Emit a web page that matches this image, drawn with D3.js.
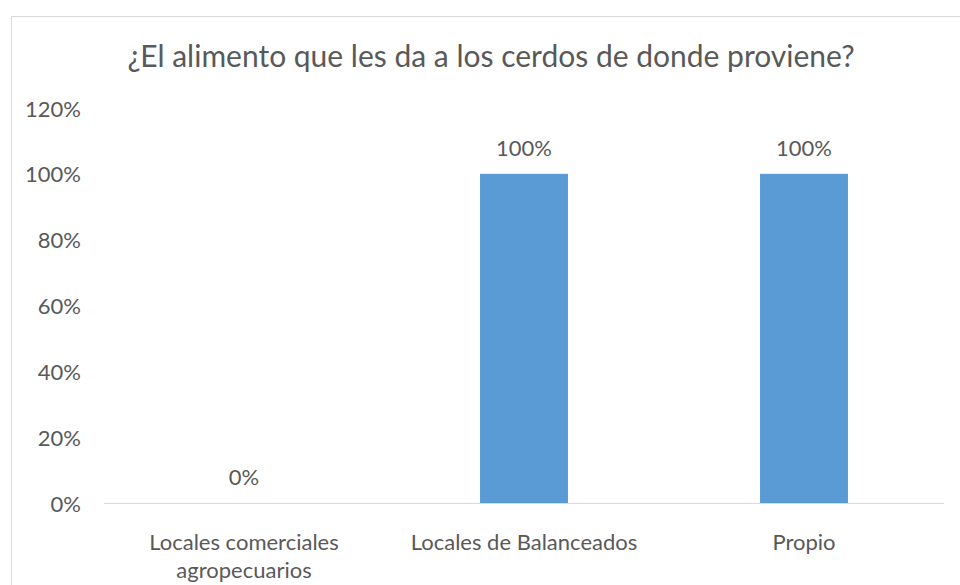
<!DOCTYPE html>
<html><head><meta charset="utf-8">
<script src="https://cdn.jsdelivr.net/npm/d3@7"></script>
<style>body{margin:0;background:#fff;} text{font-family:Lato,sans-serif;fill:#595959;}</style>
</head><body>
<svg id="c" width="960" height="585"></svg>
<script>
const title = "¿El alimento que les da a los cerdos de donde proviene?";
const categories = ["Locales comerciales agropecuarios", "Locales de Balanceados", "Propio"];
const categoryLines = [["Locales comerciales", "agropecuarios"], ["Locales de Balanceados"], ["Propio"]];
const values = [0, 1, 1];
const tickValues = [0, 0.2, 0.4, 0.6, 0.8, 1.0, 1.2];

const svg = d3.select("#c");
svg.append("rect").attr("x", 11.5).attr("y", 16.5).attr("width", 1000).attr("height", 1000)
  .attr("fill", "#fff").attr("stroke", "#d9d9d9").attr("stroke-width", 1);

const mLeft = 104, mRight = 944, mTop = 108, mBottom = 503;
const x = d3.scaleBand().domain(categories).range([mLeft, mRight]).padding(0);
const y = d3.scaleLinear().domain([0, 1.2]).range([mBottom, mTop]);
const barW = x.bandwidth() * 0.314;

svg.append("text").attr("x", 491).attr("y", 67).attr("text-anchor", "middle")
  .style("font-size", "30px").text(title);

const yAxis = svg.append("g").attr("transform", `translate(${mLeft},0)`)
  .call(d3.axisLeft(y).tickValues(tickValues).tickFormat(d3.format(".0%")).tickSize(0).tickPadding(23));
yAxis.select(".domain").remove();
yAxis.selectAll("text").attr("dy", null).attr("y", 8).style("font-size", "22px").style("fill", "#595959").style("font-family", "Lato,sans-serif");

svg.selectAll(".bar").data(values).join("rect").attr("class", "bar")
  .attr("x", (d, i) => x(categories[i]) + (x.bandwidth() - barW) / 2)
  .attr("y", d => y(d)).attr("width", barW).attr("height", d => y(0) - y(d))
  .attr("fill", "#5b9bd5");

svg.append("line").attr("x1", mLeft).attr("x2", mRight).attr("y1", y(0) + 0.5).attr("y2", y(0) + 0.5)
  .attr("stroke", "#d9d9d9").attr("stroke-width", 1.2);

svg.selectAll(".lbl").data(values).join("text").attr("class", "lbl")
  .attr("x", (d, i) => x(categories[i]) + x.bandwidth() / 2)
  .attr("y", d => y(d) - 18).attr("text-anchor", "middle").style("font-size", "22px")
  .text(d => d3.format(".0%")(d));

categoryLines.forEach((lines, i) => {
  lines.forEach((l, j) => {
    svg.append("text").attr("x", x(categories[i]) + x.bandwidth() / 2).attr("y", 550 + j * 28)
      .attr("text-anchor", "middle").style("font-size", "22px").text(l);
  });
});
</script>
</body></html>
